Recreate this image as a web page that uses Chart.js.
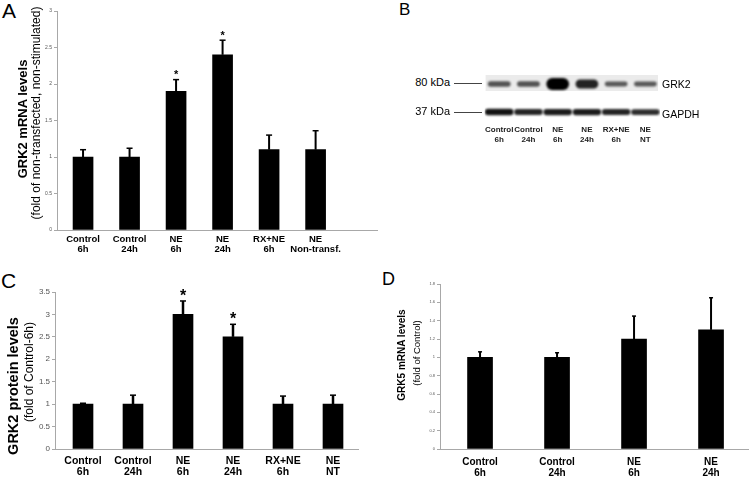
<!DOCTYPE html>
<html>
<head>
<meta charset="utf-8">
<script src="https://cdn.jsdelivr.net/npm/chart.js@4.4.0/dist/chart.umd.min.js"></script>
<style>
  body { margin:0; background:#fff; width:750px; height:477px; overflow:hidden; position:relative;
         font-family:"Liberation Sans", Arial, sans-serif; color:#000; }
  canvas { position:absolute; }
  .abs { position:absolute; white-space:nowrap; line-height:1; }
  .rot { position:absolute; white-space:nowrap; line-height:1; transform:translate(-50%,-50%) rotate(-90deg); }
  .tick { position:absolute; height:1px; background:#444; }
</style>
</head>
<body>
<div class="abs" style="left:2px;top:0;font-size:21px">A</div>
<div class="abs" style="left:399px;top:1px;font-size:17px">B</div>
<div class="abs" style="left:1px;top:270px;font-size:21px">C</div>
<div class="abs" style="left:382px;top:270px;font-size:18px">D</div>

<canvas id="chartA" width="380" height="262" style="left:0;top:0"></canvas>
<canvas id="blot" width="176" height="78" style="left:484px;top:70px"></canvas>
<canvas id="chartC" width="380" height="207" style="left:0;top:270px"></canvas>
<canvas id="chartD" width="370" height="207" style="left:380px;top:270px"></canvas>

<div class="rot" style="left:22px;top:119px;font-size:13px;font-weight:bold">GRK2 mRNA levels</div>
<div class="rot" style="left:36px;top:113px;font-size:12px">(fold of non-transfected, non-stimulated)</div>
<div class="rot" style="left:13px;top:386px;font-size:14.5px;font-weight:bold">GRK2 protein levels</div>
<div class="rot" style="left:29px;top:372px;font-size:12px">(fold of Control-6h)</div>
<div class="rot" style="left:402px;top:355px;font-size:10px;font-weight:bold">GRK5 mRNA levels</div>
<div class="rot" style="left:417px;top:353px;font-size:9.5px">(fold of Control)</div>

<div class="abs" style="left:400px;top:77px;width:50px;text-align:right;font-size:11px">80 kDa</div>
<div class="tick" style="left:454px;top:83px;width:28px"></div>
<div class="abs" style="left:400px;top:106px;width:50px;text-align:right;font-size:11px">37 kDa</div>
<div class="tick" style="left:454px;top:112px;width:28px"></div>
<div class="abs" style="left:662px;top:79px;font-size:10.5px">GRK2</div>
<div class="abs" style="left:662px;top:109px;font-size:10.5px">GAPDH</div>

<script>
const FONT = '"Liberation Sans", Arial, sans-serif';

// A: GRK2 mRNA
const aLabels = [['Control', '6h'], ['Control', '24h'], ['NE', '6h'], ['NE', '24h'], ['RX+NE', '6h'], ['NE', 'Non-transf.']];
const aValues = [1.0, 1.0, 1.9, 2.4, 1.1, 1.1];
const aErrors = [0.1, 0.12, 0.16, 0.2, 0.2, 0.26];
const aStars = [false, false, true, true, false, false];

// B: western blot, relative band density per lane
const bLanes = [['Control', '6h'], ['Control', '24h'], ['NE', '6h'], ['NE', '24h'], ['RX+NE', '6h'], ['NE', 'NT']];
const grk2Density = [0.3, 0.3, 1.0, 0.7, 0.25, 0.25];
const gapdhDensity = [0.9, 0.8, 0.85, 0.85, 0.8, 0.75];

// C: GRK2 protein
const cLabels = [['Control', '6h'], ['Control', '24h'], ['NE', '6h'], ['NE', '24h'], ['RX+NE', '6h'], ['NE', 'NT']];
const cValues = [1.0, 1.0, 3.0, 2.5, 1.0, 1.0];
const cErrors = [0.02, 0.2, 0.3, 0.28, 0.18, 0.2];
const cStars = [false, false, true, true, false, false];

// D: GRK5 mRNA
const dLabels = [['Control', '6h'], ['Control', '24h'], ['NE', '6h'], ['NE', '24h']];
const dValues = [1.0, 1.0, 1.2, 1.3];
const dErrors = [0.06, 0.05, 0.25, 0.35];

function errorPlugin(c) {
  return {
    id: 'errorBars',
    afterDatasetsDraw(chart) {
      const ctx = chart.ctx, x = chart.scales.x, y = chart.scales.y;
      ctx.save();
      ctx.strokeStyle = '#000';
      ctx.fillStyle = '#000';
      c.values.forEach((v, i) => {
        const px = x.getPixelForValue(i);
        const base = y.getPixelForValue(v);
        const top = y.getPixelForValue(v + c.errors[i]);
        ctx.lineWidth = c.errWidth;
        ctx.beginPath(); ctx.moveTo(px, base); ctx.lineTo(px, top); ctx.stroke();
        ctx.lineWidth = 1.5;
        ctx.beginPath(); ctx.moveTo(px - c.cap / 2, top); ctx.lineTo(px + c.cap / 2, top); ctx.stroke();
        if (c.stars && c.stars[i]) {
          ctx.font = 'bold ' + c.starSize + 'px ' + FONT;
          ctx.textAlign = 'center';
          ctx.textBaseline = 'alphabetic';
          ctx.fillText('*', px, top - c.starGap + 0.57 * c.starSize);
        }
      });
      ctx.restore();
    }
  };
}

function barPanel(id, c) {
  return new Chart(document.getElementById(id), {
    type: 'bar',
    data: {
      datasets: [{
        data: c.values.map((v, i) => ({ x: i, y: v })),
        backgroundColor: '#000',
        barThickness: c.barPx
      }]
    },
    options: {
      responsive: false,
      animation: false,
      layout: { padding: { top: c.padTop, right: c.padRight, left: 0, bottom: 0 } },
      plugins: { legend: { display: false }, tooltip: { enabled: false } },
      scales: {
        x: {
          type: 'linear', min: c.xMin, max: c.xMax, offset: false,
          grid: { display: false, drawTicks: false, offset: false },
          border: { color: '#a8a8a8', width: 1 },
          afterBuildTicks: s => { s.ticks = c.labels.map((_, i) => ({ value: i })); },
          afterFit: s => { s.height = c.xHeight; },
          ticks: {
            autoSkip: false, maxRotation: 0, padding: c.xPad, color: '#000',
            font: { family: FONT, size: c.xFont, weight: 'bold', lineHeight: 1.1 },
            callback: v => c.labels[v]
          }
        },
        y: {
          min: 0, max: c.yMax,
          ticks: {
            stepSize: c.yStep, color: '#555', padding: 2,
            font: { family: FONT, size: c.yFont },
            callback: v => String(Number(v.toFixed(2)))
          },
          grid: { drawOnChartArea: false, drawTicks: true, tickLength: 3, color: '#a8a8a8' },
          border: { color: '#a8a8a8', width: 1 },
          afterFit: s => { s.width = c.yWidth; }
        }
      }
    },
    plugins: [errorPlugin(c)]
  });
}

barPanel('chartA', {
  labels: aLabels, values: aValues, errors: aErrors, stars: aStars,
  yMax: 3, yStep: 0.5, yFont: 5, yWidth: 57,
  xMin: -0.56, xMax: 6.32, xHeight: 32, xFont: 9.5, xPad: 4,
  padTop: 11, padRight: 3, barPx: 20,
  errWidth: 2, cap: 6, starSize: 11, starGap: 7.5
});

barPanel('chartC', {
  labels: cLabels, values: cValues, errors: cErrors, stars: cStars,
  yMax: 3.5, yStep: 0.5, yFont: 8, yWidth: 55,
  xMin: -0.56, xMax: 5.5, xHeight: 28, xFont: 10.5, xPad: 6,
  padTop: 22, padRight: 22, barPx: 20,
  errWidth: 2.5, cap: 6, starSize: 16, starGap: 9.5
});

barPanel('chartD', {
  labels: dLabels, values: dValues, errors: dErrors, stars: null,
  yMax: 1.8, yStep: 0.2, yFont: 4, yWidth: 60,
  xMin: -0.52, xMax: 3.48, xHeight: 28, xFont: 10, xPad: 7.5,
  padTop: 14, padRight: 2, barPx: 25,
  errWidth: 2, cap: 4, starSize: 0, starGap: 0
});

// blot: rows measured in pixels from the top of the blot area
const GRK2_ROW = 14, GAPDH_ROW = 42;
function band(row, d, base, grow) {
  const h = base + grow * d;
  return [row - h / 2, row + h / 2];
}

const blotPlugin = {
  id: 'blotLook',
  beforeDatasetsDraw(chart) {
    const ctx = chart.ctx, a = chart.chartArea, y = chart.scales.y;
    ctx.save();
    ctx.fillStyle = '#ebebeb';
    ctx.fillRect(a.left + 1, y.getPixelForValue(5), a.right - a.left - 3, y.getPixelForValue(21) - y.getPixelForValue(5));
    ctx.restore();
    ctx.save();
    ctx.filter = 'blur(1px)';
  },
  afterDatasetsDraw(chart) {
    chart.ctx.restore();
  }
};

new Chart(document.getElementById('blot'), {
  type: 'bar',
  data: {
    labels: bLanes,
    datasets: [
      {
        data: grk2Density.map(d => band(GRK2_ROW, d, 2.5, 9.5)),
        backgroundColor: grk2Density.map(d => 'rgba(0,0,0,' + (0.5 + 0.5 * d) + ')'),
        barPercentage: 0.78, categoryPercentage: 1, grouped: false,
        borderSkipped: false, borderRadius: 20
      },
      {
        data: gapdhDensity.map(d => band(GAPDH_ROW, d, 2, 5)),
        backgroundColor: gapdhDensity.map(d => 'rgba(0,0,0,' + (0.3 + 0.7 * d) + ')'),
        barPercentage: 0.98, categoryPercentage: 1, grouped: false,
        borderSkipped: false, borderRadius: 20
      }
    ]
  },
  options: {
    responsive: false,
    animation: false,
    layout: { padding: 0 },
    plugins: { legend: { display: false }, tooltip: { enabled: false } },
    scales: {
      x: {
        grid: { display: false, drawTicks: false },
        border: { display: false },
        afterFit: s => { s.height = 24; },
        ticks: {
          autoSkip: false, maxRotation: 0, padding: 1, color: '#222',
          font: { family: FONT, size: 8, weight: 'bold', lineHeight: 1.2 }
        }
      },
      y: { display: false, min: 0, max: 54, reverse: true }
    }
  },
  plugins: [blotPlugin]
});
</script>
</body>
</html>
